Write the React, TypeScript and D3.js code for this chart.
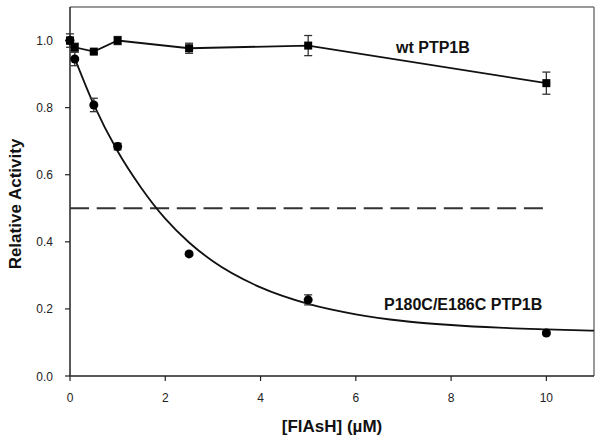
import React from "react";
import * as d3 from "d3";

const xTicks = [0, 2, 4, 6, 8, 10];
const yTicks = [0, 0.2, 0.4, 0.6, 0.8, 1.0];

const wtX = [0, 0.1, 0.5, 1, 2.5, 5, 10];
const wtY = [1.0, 0.98, 0.967, 1.0, 0.977, 0.985, 0.873];
const wtErr = [0.02, 0.012, 0.006, 0.012, 0.015, 0.03, 0.033];

const mutX = [0, 0.1, 0.5, 1, 2.5, 5, 10];
const mutY = [1.0, 0.945, 0.808, 0.684, 0.364, 0.227, 0.128];
const mutErr = [0.01, 0.02, 0.02, 0.01, 0.005, 0.015, 0.005];

// fitted curve
const fitX = [0.1, 0.5, 1, 1.5, 2, 2.5, 3, 4, 5, 6, 7, 8, 9, 10, 11];
const fitY = [0.947, 0.809, 0.67, 0.56, 0.469, 0.398, 0.342, 0.264, 0.215, 0.184, 0.164, 0.152, 0.144, 0.139, 0.135];

const halfLineX = [0, 10];
const halfLineY = [0.5, 0.5];

const W = 604, H = 442;
const L = 70, R = 594, T = 7, B = 376;

export default function App() {
  const x = d3.scaleLinear().domain([0, 11]).range([L, R]);
  const y = d3.scaleLinear().domain([0, 1.1]).range([B, T]);

  const line = d3.line<[number, number]>().x(d => x(d[0])).y(d => y(d[1]));
  const curve = d3.line<[number, number]>().x(d => x(d[0])).y(d => y(d[1])).curve(d3.curveMonotoneX);

  const wtPts = wtX.map((v, i) => [v, wtY[i]] as [number, number]);
  const fitPts = fitX.map((v, i) => [v, fitY[i]] as [number, number]);
  const halfPts = halfLineX.map((v, i) => [v, halfLineY[i]] as [number, number]);

  const errBar = (cx: number, cy: number, e: number, key: string) => (
    <g key={key} stroke="#333" strokeWidth={1.3}>
      <line x1={x(cx)} x2={x(cx)} y1={y(cy + e)} y2={y(cy - e)} />
      <line x1={x(cx) - 4} x2={x(cx) + 4} y1={y(cy + e)} y2={y(cy + e)} />
      <line x1={x(cx) - 4} x2={x(cx) + 4} y1={y(cy - e)} y2={y(cy - e)} />
    </g>
  );

  return (
    <svg width={W} height={H} style={{ position: "absolute", left: 0, top: 0, background: "#fff" }}
      fontFamily="Arial, 'Liberation Sans', sans-serif">
      <rect x={0} y={0} width={W} height={H} fill="#fff" />
      {/* frame */}
      <line x1={L} x2={R} y1={T} y2={T} stroke="#777" strokeWidth={1.5} />
      <line x1={R} x2={R} y1={T} y2={B} stroke="#777" strokeWidth={1.5} />
      <line x1={L} x2={L} y1={T} y2={B} stroke="#222" strokeWidth={1.5} />
      <line x1={L} x2={R} y1={B} y2={B} stroke="#222" strokeWidth={1.5} />
      {/* ticks */}
      {yTicks.map(t => (
        <g key={"y" + t}>
          <line x1={L - 5} x2={L} y1={y(t)} y2={y(t)} stroke="#222" strokeWidth={1.2} />
          <text x={53} y={y(t) + 4.5} textAnchor="end" fontSize={12} fill="#222">{t.toFixed(1)}</text>
        </g>
      ))}
      {xTicks.map(t => (
        <g key={"x" + t}>
          <line x1={x(t)} x2={x(t)} y1={B} y2={B + 5} stroke="#222" strokeWidth={1.2} />
          <text x={x(t)} y={402} textAnchor="middle" fontSize={12} fill="#222">{t}</text>
        </g>
      ))}
      {/* axis titles */}
      <text transform={`translate(21,204) rotate(-90)`} textAnchor="middle" fontSize={17} fontWeight="bold" fill="#111">Relative Activity</text>
      <text x={332} y={432} textAnchor="middle" fontSize={17} fontWeight="bold" fill="#111">[FlAsH] (µM)</text>
      {/* half line */}
      <path d={line(halfPts) || ""} fill="none" stroke="#333" strokeWidth={2} strokeDasharray="19,7.7" />
      {/* fit curve */}
      <path d={curve(fitPts) || ""} fill="none" stroke="#111" strokeWidth={1.8} />
      {/* wt line */}
      <path d={line(wtPts) || ""} fill="none" stroke="#111" strokeWidth={1.8} />
      {/* error bars */}
      {mutX.map((v, i) => errBar(v, mutY[i], mutErr[i], "me" + i))}
      {wtX.map((v, i) => errBar(v, wtY[i], wtErr[i], "we" + i))}
      {/* markers */}
      {mutX.map((v, i) => (
        <circle key={"mc" + i} cx={x(v)} cy={y(mutY[i])} r={4.5} fill="#000" />
      ))}
      {wtX.map((v, i) => (
        <rect key={"ws" + i} x={x(v) - 4} y={y(wtY[i]) - 4} width={8} height={8} fill="#000" />
      ))}
      {/* labels */}
      <text x={396} y={53} fontSize={16} fontWeight="bold" fill="#111">wt PTP1B</text>
      <text x={384} y={310} fontSize={16} fontWeight="bold" fill="#111">P180C/E186C PTP1B</text>
    </svg>
  );
}
